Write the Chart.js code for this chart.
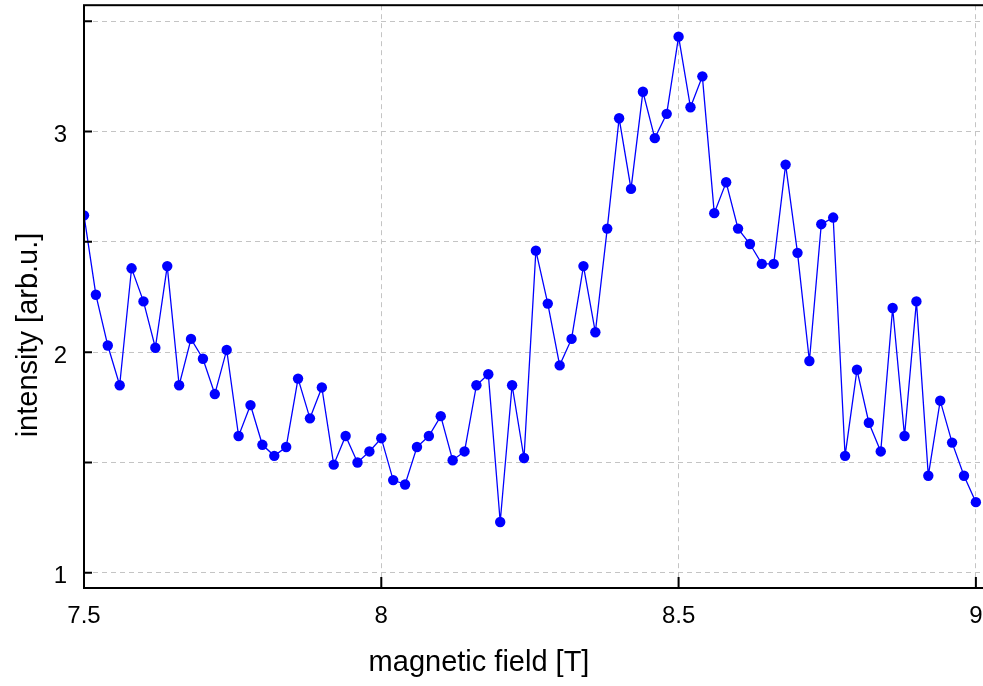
<!DOCTYPE html>
<html>
<head>
<meta charset="utf-8">
<script src="https://cdn.jsdelivr.net/npm/chart.js@4/dist/chart.umd.min.js"></script>
<style>
  html, body { margin: 0; padding: 0; background: #fff; overflow: hidden; }
  #wrap { width: 990px; height: 686px; }
</style>
</head>
<body>
<div id="wrap"><canvas id="chart" width="990" height="686"></canvas></div>
<script>
// magnetic field [T]
const fieldT = [
  7.50, 7.52, 7.54, 7.56, 7.58, 7.60, 7.62, 7.64, 7.66, 7.68,
  7.70, 7.72, 7.74, 7.76, 7.78, 7.80, 7.82, 7.84, 7.86, 7.88,
  7.90, 7.92, 7.94, 7.96, 7.98, 8.00, 8.02, 8.04, 8.06, 8.08,
  8.10, 8.12, 8.14, 8.16, 8.18, 8.20, 8.22, 8.24, 8.26, 8.28,
  8.30, 8.32, 8.34, 8.36, 8.38, 8.40, 8.42, 8.44, 8.46, 8.48,
  8.50, 8.52, 8.54, 8.56, 8.58, 8.60, 8.62, 8.64, 8.66, 8.68,
  8.70, 8.72, 8.74, 8.76, 8.78, 8.80, 8.82, 8.84, 8.86, 8.88,
  8.90, 8.92, 8.94, 8.96, 8.98, 9.00
];

// intensity [arb.u.]
const intensity = [
  2.62, 2.26, 2.03, 1.85, 2.38, 2.23, 2.02, 2.39, 1.85, 2.06,
  1.97, 1.81, 2.01, 1.62, 1.76, 1.58, 1.53, 1.57, 1.88, 1.70,
  1.84, 1.49, 1.62, 1.50, 1.55, 1.61, 1.42, 1.40, 1.57, 1.62,
  1.71, 1.51, 1.55, 1.85, 1.90, 1.23, 1.85, 1.52, 2.46, 2.22,
  1.94, 2.06, 2.39, 2.09, 2.56, 3.06, 2.74, 3.18, 2.97, 3.08,
  3.43, 3.11, 3.25, 2.63, 2.77, 2.56, 2.49, 2.40, 2.40, 2.85,
  2.45, 1.96, 2.58, 2.61, 1.53, 1.92, 1.68, 1.55, 2.20, 1.62,
  2.23, 1.44, 1.78, 1.59, 1.44, 1.32
];

const xTitle = "magnetic field [T]";
const yTitle = "intensity [arb.u.]";

const points = fieldT.map((x, i) => ({ x: x, y: intensity[i] }));

const fontFamily = "'Liberation Sans', Arial, sans-serif";

// fixed axis sizes, no extra label padding
function fixSize(prop, size) {
  return scale => {
    scale[prop] = size;
    scale.paddingTop = 0;
    scale.paddingBottom = 0;
    scale.paddingLeft = 0;
    scale.paddingRight = 0;
  };
}

// frame, inward ticks and axis titles
const framePlugin = {
  id: "frame",
  afterDraw(chart) {
    const { ctx, chartArea: a, scales } = chart;
    ctx.save();
    ctx.strokeStyle = "#000";
    ctx.lineWidth = 2;
    ctx.strokeRect(a.left, a.top, a.right - a.left, a.bottom - a.top);

    ctx.beginPath();
    scales.y.ticks.forEach(t => {
      const py = scales.y.getPixelForValue(t.value);
      ctx.moveTo(a.left, py);
      ctx.lineTo(a.left + 8, py);
    });
    scales.x.ticks.forEach(t => {
      const px = scales.x.getPixelForValue(t.value);
      ctx.moveTo(px, a.bottom);
      ctx.lineTo(px, a.bottom - 11);
    });
    ctx.stroke();

    ctx.fillStyle = "#000";
    ctx.font = "29px " + fontFamily;
    ctx.textAlign = "center";
    ctx.textBaseline = "middle";
    ctx.fillText(xTitle, 479, 663);
    ctx.translate(29, 335);
    ctx.rotate(-Math.PI / 2);
    ctx.fillText(yTitle, 0, 0);
    ctx.restore();
  }
};

new Chart(document.getElementById("chart"), {
  type: "scatter",
  data: {
    datasets: [{
      data: points,
      showLine: true,
      borderColor: "#0000ff",
      borderWidth: 1.3,
      backgroundColor: "#0000ff",
      pointBackgroundColor: "#0000ff",
      pointBorderWidth: 0,
      pointRadius: 5.2,
      tension: 0
    }]
  },
  options: {
    responsive: false,
    devicePixelRatio: 1,
    animation: false,
    layout: { padding: { top: 5, right: 4, left: 0, bottom: 0 } },
    plugins: {
      legend: { display: false },
      tooltip: { enabled: false }
    },
    scales: {
      x: {
        type: "linear",
        min: 7.5,
        max: 9.015,
        afterFit: fixSize("height", 98),
        border: { display: false, dash: [5, 4] },
        grid: { color: "#c4c4c4", lineWidth: 1, drawTicks: false },
        ticks: {
          stepSize: 0.5,
          includeBounds: false,
          maxRotation: 0,
          padding: 14,
          color: "#000",
          font: { family: fontFamily, size: 24 },
          callback: v => String(v)
        }
      },
      y: {
        type: "linear",
        min: 0.931,
        max: 3.5725,
        afterFit: fixSize("width", 84),
        border: { display: false, dash: [5, 4] },
        grid: { color: "#c4c4c4", lineWidth: 1, drawTicks: false },
        ticks: {
          stepSize: 0.5,
          includeBounds: false,
          padding: 17,
          labelOffset: 4,
          color: "#000",
          font: { family: fontFamily, size: 24 },
          callback: v => (Math.abs(v - Math.round(v)) < 1e-6 ? String(Math.round(v)) : "")
        }
      }
    }
  },
  plugins: [framePlugin]
});
</script>
</body>
</html>
